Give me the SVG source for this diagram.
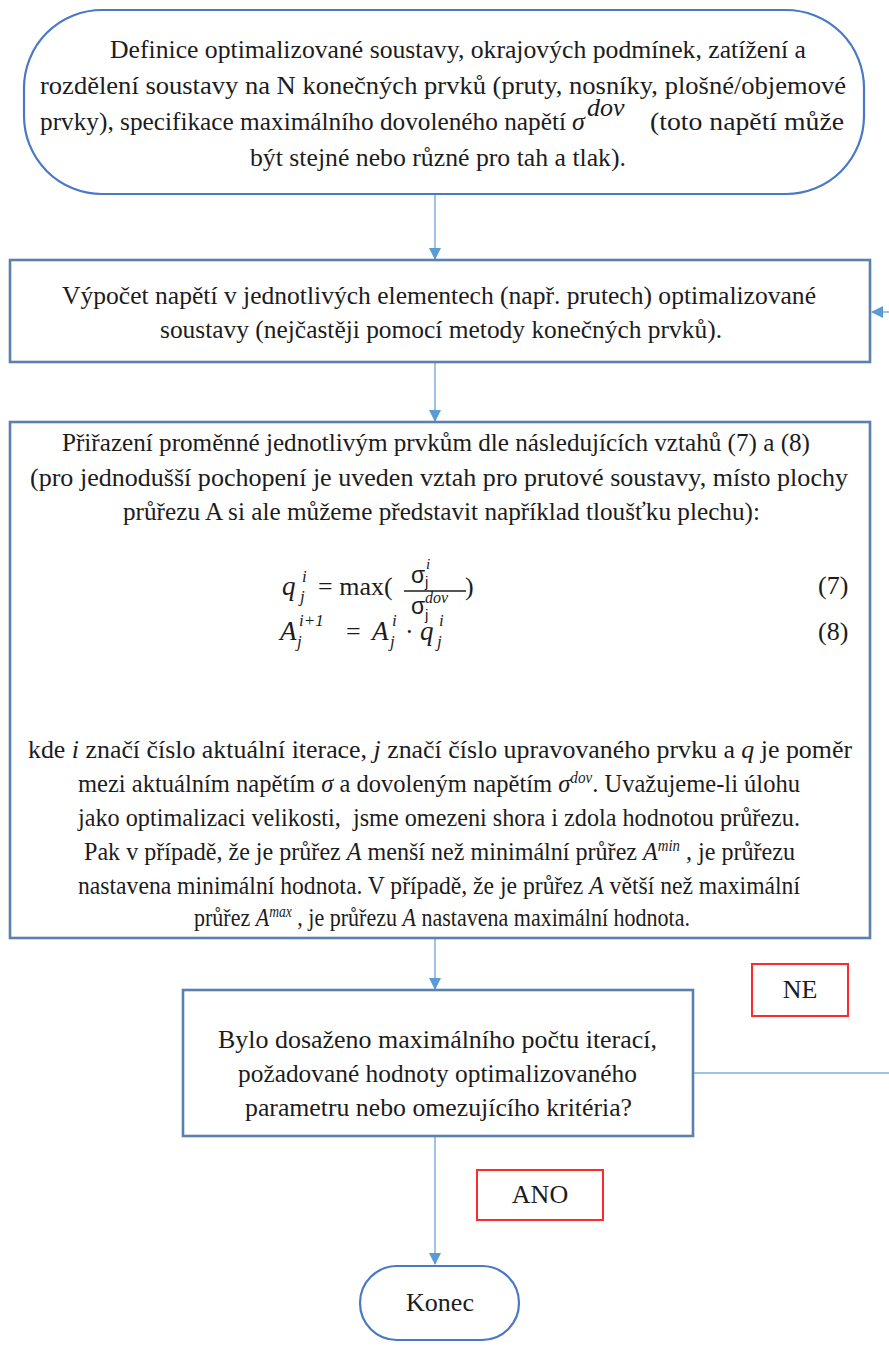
<svg xmlns="http://www.w3.org/2000/svg" width="889" height="1349" viewBox="0 0 889 1349">
  <style>
    .term { fill: #ffffff; stroke: #4a78c6; stroke-width: 2.2; }
    .proc { fill: #ffffff; stroke: #5a80ae; stroke-width: 2.6; }
    .tag  { fill: #ffffff; stroke: #ff2a2a; stroke-width: 2; }
    .conn { fill: none; stroke: #9fc3e7; stroke-width: 2; }
    .t    { font-family: "Liberation Serif", "Times New Roman", serif; font-size: 26px; fill: #1c1c1c; }
    .c    { text-anchor: middle; }
    .it   { font-style: italic; }
    .sup  { font-style: italic; font-size: 16px; }
    .m    { font-family: "Liberation Serif", "Times New Roman", serif; fill: #1c1c1c; }
    .ms   { font-family: "Liberation Sans", Arial, sans-serif; fill: #1c1c1c; }
  </style>
  <defs>
    <marker id="arrow" viewBox="0 0 12 12" refX="11" refY="6" markerWidth="12" markerHeight="12" markerUnits="userSpaceOnUse" orient="auto">
      <path d="M0,0 L12,6 L0,12 Z" fill="#5b9bd5"/>
    </marker>
  </defs>

  <!-- connectors -->
  <g id="connectors">
    <line class="conn" x1="435" y1="195" x2="435" y2="259" marker-end="url(#arrow)"/>
    <line class="conn" x1="435" y1="363" x2="435" y2="421" marker-end="url(#arrow)"/>
    <line class="conn" x1="435" y1="939" x2="435" y2="989" marker-end="url(#arrow)"/>
    <line class="conn" x1="435" y1="1137" x2="435" y2="1264" marker-end="url(#arrow)"/>
    <path class="conn" d="M694,1073 H892 V312 H872" marker-end="url(#arrow)"/>
  </g>

  <!-- start -->
  <g id="start">
    <rect class="term" x="24" y="10" width="840" height="184" rx="78" ry="78"/>
    <text class="t" x="110" y="58" textLength="696" lengthAdjust="spacingAndGlyphs">Definice optimalizované soustavy, okrajových podmínek, zatížení a</text>
    <text class="t" x="40" y="94" textLength="806" lengthAdjust="spacingAndGlyphs">rozdělení soustavy na N konečných prvků (pruty, nosníky, plošné/objemové</text>
    <text class="t" x="40" y="130" textLength="526" lengthAdjust="spacingAndGlyphs">prvky), specifikace maximálního dovoleného napětí</text>
    <text class="t it" x="572" y="130">σ</text>
    <text class="t it" x="587" y="116" font-size="18">dov</text>
    <text class="t" x="650" y="130" textLength="194" lengthAdjust="spacingAndGlyphs">(toto napětí může</text>
    <text class="t" x="250" y="166" textLength="376" lengthAdjust="spacingAndGlyphs">být stejné nebo různé pro tah a tlak).</text>
  </g>

  <!-- stress computation -->
  <g id="stress">
    <rect class="proc" x="10" y="260" width="860" height="102"/>
    <text class="t" x="62" y="304" textLength="754" lengthAdjust="spacingAndGlyphs">Výpočet napětí v jednotlivých elementech (např. prutech) optimalizované</text>
    <text class="t" x="160" y="338" textLength="562" lengthAdjust="spacingAndGlyphs">soustavy (nejčastěji pomocí metody konečných prvků).</text>
  </g>

  <!-- variable assignment -->
  <g id="update">
    <rect class="proc" x="10" y="422" width="860" height="516"/>
    <text class="t" x="62" y="451" textLength="748" lengthAdjust="spacingAndGlyphs">Přiřazení proměnné jednotlivým prvkům dle následujících vztahů (7) a (8)</text>
    <text class="t" x="30" y="486" textLength="818" lengthAdjust="spacingAndGlyphs">(pro jednodušší pochopení je uveden vztah pro prutové soustavy, místo plochy</text>
    <text class="t" x="123" y="520" textLength="637" lengthAdjust="spacingAndGlyphs">průřezu A si ale můžeme představit například tloušťku plechu):</text>

    <!-- equation (7) -->
    <text class="m it" x="282" y="595" font-size="27">q</text>
    <text class="m it" x="302" y="582" font-size="17">i</text>
    <text class="m it" x="300" y="602" font-size="17">j</text>
    <text class="m" x="318" y="595" font-size="26">= max(</text>
    <text class="ms" x="411" y="583" font-size="23">σ</text>
    <text class="m it" x="426" y="569" font-size="15">i</text>
    <text class="ms" x="425" y="587" font-size="15">j</text>
    <line x1="404" y1="591" x2="466" y2="591" stroke="#1c1c1c" stroke-width="1.3"/>
    <text class="ms" x="411" y="614" font-size="23">σ</text>
    <text class="m it" x="425" y="603" font-size="16">dov</text>
    <text class="ms" x="425" y="620" font-size="15">j</text>
    <text class="m" x="465" y="595" font-size="26">)</text>
    <text class="t" x="818" y="594">(7)</text>

    <!-- equation (8) -->
    <text class="m it" x="280" y="640" font-size="27">A</text>
    <text class="m it" x="299" y="626" font-size="17">i+1</text>
    <text class="m it" x="297" y="647" font-size="17">j</text>
    <text class="m" x="346" y="640" font-size="26">=</text>
    <text class="m it" x="372" y="640" font-size="27">A</text>
    <text class="m it" x="392" y="626" font-size="17">i</text>
    <text class="m it" x="390" y="647" font-size="17">j</text>
    <text class="m" x="405" y="640" font-size="26">·</text>
    <text class="m it" x="420" y="640" font-size="27">q</text>
    <text class="m it" x="439" y="626" font-size="17">i</text>
    <text class="m it" x="437" y="647" font-size="17">j</text>
    <text class="t" x="818" y="640">(8)</text>

    <!-- explanation -->
    <text class="t" x="28" y="758" textLength="824" lengthAdjust="spacingAndGlyphs">kde <tspan class="it">i</tspan> značí číslo aktuální iterace, <tspan class="it">j</tspan> značí číslo upravovaného prvku a <tspan class="it">q</tspan> je poměr</text>
    <text class="t" x="78" y="792" textLength="722" lengthAdjust="spacingAndGlyphs">mezi aktuálním napětím <tspan class="it">σ</tspan> a dovoleným napětím <tspan class="it">σ</tspan><tspan class="sup" baseline-shift="9">dov</tspan>. Uvažujeme-li úlohu</text>
    <text class="t" x="78" y="826" textLength="722" lengthAdjust="spacingAndGlyphs">jako optimalizaci velikosti,&#160; jsme omezeni shora i zdola hodnotou průřezu.</text>
    <text class="t" x="84" y="860" textLength="711" lengthAdjust="spacingAndGlyphs">Pak v případě, že je průřez <tspan class="it">A</tspan> menší než minimální průřez <tspan class="it">A</tspan><tspan class="sup" baseline-shift="9">min</tspan> , je průřezu</text>
    <text class="t" x="78" y="894" textLength="722" lengthAdjust="spacingAndGlyphs">nastavena minimální hodnota. V případě, že je průřez <tspan class="it">A</tspan> větší než maximální</text>
    <text class="t" x="194" y="926" textLength="496" lengthAdjust="spacingAndGlyphs">průřez <tspan class="it">A</tspan><tspan class="sup" baseline-shift="9">max</tspan> , je průřezu <tspan class="it">A</tspan> nastavena maximální hodnota.</text>
  </g>

  <!-- stop condition -->
  <g id="decision">
    <rect class="proc" x="183" y="990" width="510" height="146"/>
    <text class="t" x="218" y="1048" textLength="439" lengthAdjust="spacingAndGlyphs">Bylo dosaženo maximálního počtu iterací,</text>
    <text class="t" x="238" y="1082" textLength="399" lengthAdjust="spacingAndGlyphs">požadované hodnoty optimalizovaného</text>
    <text class="t" x="245" y="1116" textLength="387" lengthAdjust="spacingAndGlyphs">parametru nebo omezujícího kritéria?</text>
  </g>

  <!-- branch labels -->
  <g id="label-ne">
    <rect class="tag" x="752" y="964" width="96" height="52"/>
    <text class="t c" x="800" y="998">NE</text>
  </g>
  <g id="label-ano">
    <rect class="tag" x="477" y="1170" width="126" height="50"/>
    <text class="t c" x="540" y="1203">ANO</text>
  </g>

  <!-- end -->
  <g id="end">
    <rect class="term" x="360" y="1266" width="159" height="74" rx="37" ry="37"/>
    <text class="t c" x="440" y="1311">Konec</text>
  </g>
</svg>
